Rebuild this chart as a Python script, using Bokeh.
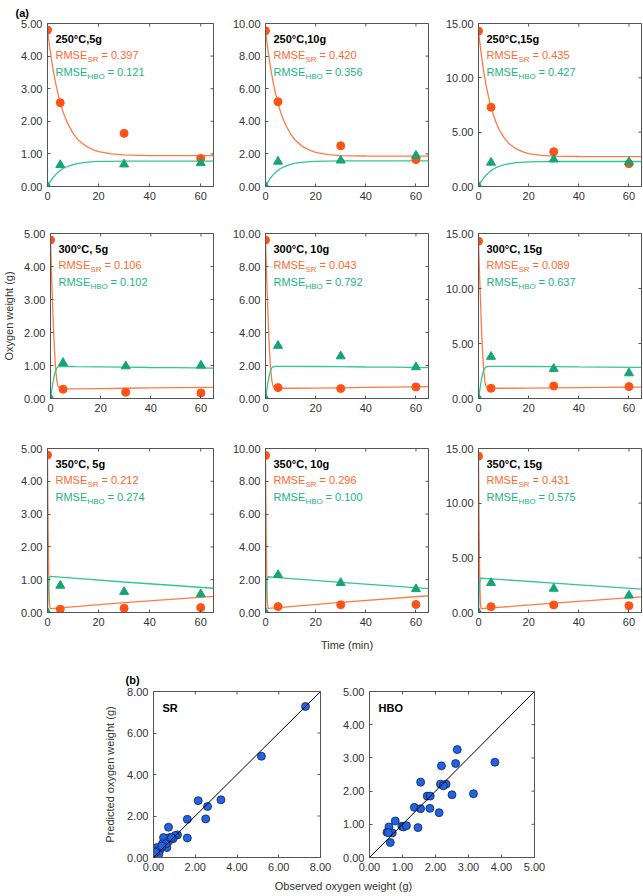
import math
from bokeh.plotting import figure
from bokeh.models import Range1d, Label, NumeralTickFormatter, FixedTicker, Slope, Title
from bokeh.layouts import column, row
from bokeh.embed import file_html
from bokeh.resources import INLINE

FONT = "Liberation Sans"
ORANGE_PT = "#FF5214"
ORANGE_LN = "#FF7A45"
ORANGE_TX = "#FF6A2E"
GREEN_PT = "#14A574"
GREEN_LN = "#33C690"
GREEN_TX = "#22B581"
AX = "#555555"
TX = "#333333"

# ---------------- data: panel (a) ----------------
time_obs = [0, 5, 30, 60]
panel_titles = ["250°C,5g", "250°C,10g", "250°C,15g",
                "300°C, 5g", "300°C, 10g", "300°C, 15g",
                "350°C, 5g", "350°C, 10g", "350°C, 15g"]
rmse_sr = ["0.397", "0.420", "0.435", "0.106", "0.043", "0.089", "0.212", "0.296", "0.431"]
rmse_hbo = ["0.121", "0.356", "0.427", "0.102", "0.792", "0.637", "0.274", "0.100", "0.575"]
y_max = [5, 10, 15]
y_ticks = [[0, 1, 2, 3, 4, 5], [0, 2, 4, 6, 8, 10], [0, 5, 10, 15]]
x_ticks = [0, 20, 40, 60]
x_max = 65

sr_obs_1 = [4.80, 2.57, 1.63, 0.86]
sr_obs_2 = [9.55, 5.20, 2.50, 1.65]
sr_obs_3 = [14.30, 7.30, 3.20, 2.10]
sr_obs_4 = [4.80, 0.28, 0.19, 0.17]
sr_obs_5 = [9.60, 0.66, 0.60, 0.70]
sr_obs_6 = [14.30, 0.93, 1.14, 1.08]
sr_obs_7 = [4.80, 0.10, 0.13, 0.15]
sr_obs_8 = [9.58, 0.36, 0.47, 0.49]
sr_obs_9 = [14.30, 0.53, 0.69, 0.62]

hbo_obs_1 = [0, 0.66, 0.68, 0.72]
hbo_obs_2 = [0, 1.53, 1.60, 1.90]
hbo_obs_3 = [0, 2.20, 2.50, 2.25]
hbo_obs_4 = [0, 1.08, 0.98, 1.00]
hbo_obs_5 = [0, 3.20, 2.56, 1.90]
hbo_obs_6 = [0, 3.80, 2.70, 2.30]
hbo_obs_7 = [0, 0.82, 0.63, 0.56]
hbo_obs_8 = [0, 2.29, 1.80, 1.43]
hbo_obs_9 = [0, 2.70, 2.18, 1.56]

# model curves (at these times)
t_slow = [0, 1, 2, 3, 4, 5, 6, 7, 8, 10, 12, 15, 18, 20, 25, 30, 40, 65]
t_mid = [0, 0.5, 1, 1.5, 2, 2.5, 3, 4, 5, 10, 20, 30, 40, 50, 65]
t_fast = [0, 0.25, 0.5, 0.75, 1, 5, 30, 65]

sr_fit_1 = [4.80, 4.19, 3.68, 3.24, 2.88, 2.57, 2.31, 2.10, 1.92, 1.63, 1.43, 1.24, 1.12, 1.07, 1.00, 0.97, 0.95, 0.95]
hbo_fit_1 = [0, 0.14, 0.26, 0.35, 0.43, 0.49, 0.55, 0.59, 0.62, 0.67, 0.71, 0.74, 0.76, 0.77, 0.77, 0.78, 0.78, 0.78]
sr_fit_2 = [9.55, 8.33, 7.30, 6.44, 5.71, 5.10, 4.58, 4.15, 3.79, 3.22, 2.82, 2.43, 2.20, 2.10, 1.96, 1.90, 1.87, 1.86]
hbo_fit_2 = [0, 0.28, 0.52, 0.71, 0.86, 0.99, 1.10, 1.18, 1.25, 1.36, 1.43, 1.49, 1.53, 1.54, 1.56, 1.57, 1.57, 1.57]
sr_fit_3 = [14.30, 12.34, 10.71, 9.36, 8.24, 7.30, 6.54, 5.89, 5.36, 4.55, 3.99, 3.46, 3.16, 3.03, 2.86, 2.79, 2.76, 2.75]
hbo_fit_3 = [0, 0.42, 0.76, 1.04, 1.27, 1.46, 1.61, 1.73, 1.84, 1.99, 2.09, 2.19, 2.24, 2.26, 2.28, 2.30, 2.30, 2.30]

sr_fit_4 = [4.80, 3.60, 2.50, 1.60, 0.95, 0.55, 0.37, 0.30, 0.29, 0.29, 0.30, 0.31, 0.32, 0.33, 0.34]
hbo_fit_4 = [0, 0.25, 0.50, 0.70, 0.84, 0.92, 0.96, 0.97, 0.97, 0.965, 0.96, 0.95, 0.94, 0.935, 0.92]
sr_fit_5 = [9.60, 7.20, 5.00, 3.20, 1.90, 1.10, 0.75, 0.63, 0.62, 0.62, 0.63, 0.65, 0.67, 0.69, 0.72]
hbo_fit_5 = [0, 0.50, 1.00, 1.40, 1.68, 1.85, 1.92, 1.95, 1.95, 1.95, 1.94, 1.93, 1.91, 1.90, 1.87]
sr_fit_6 = [14.30, 10.80, 7.50, 4.80, 2.80, 1.60, 1.10, 0.94, 0.93, 0.93, 0.95, 0.97, 0.99, 1.01, 1.04]
hbo_fit_6 = [0, 0.75, 1.50, 2.10, 2.50, 2.75, 2.87, 2.92, 2.92, 2.92, 2.91, 2.89, 2.87, 2.86, 2.83]

sr_fit_7 = [4.80, 2.50, 1.00, 0.30, 0.12, 0.14, 0.30, 0.49]
hbo_fit_7 = [0, 0.60, 0.98, 1.08, 1.10, 1.08, 0.93, 0.74]
sr_fit_8 = [9.58, 5.00, 2.00, 0.60, 0.25, 0.30, 0.62, 1.02]
hbo_fit_8 = [0, 1.20, 1.90, 2.14, 2.18, 2.13, 1.84, 1.45]
sr_fit_9 = [14.30, 7.50, 3.00, 0.90, 0.35, 0.42, 0.85, 1.42]
hbo_fit_9 = [0, 1.80, 2.80, 3.10, 3.14, 3.08, 2.69, 2.14]

sr_obs_all = [sr_obs_1, sr_obs_2, sr_obs_3, sr_obs_4, sr_obs_5, sr_obs_6, sr_obs_7, sr_obs_8, sr_obs_9]
hbo_obs_all = [hbo_obs_1, hbo_obs_2, hbo_obs_3, hbo_obs_4, hbo_obs_5, hbo_obs_6, hbo_obs_7, hbo_obs_8, hbo_obs_9]
sr_fit_all = [sr_fit_1, sr_fit_2, sr_fit_3, sr_fit_4, sr_fit_5, sr_fit_6, sr_fit_7, sr_fit_8, sr_fit_9]
hbo_fit_all = [hbo_fit_1, hbo_fit_2, hbo_fit_3, hbo_fit_4, hbo_fit_5, hbo_fit_6, hbo_fit_7, hbo_fit_8, hbo_fit_9]
t_fit_rows = [t_slow, t_mid, t_fast]

# ---------------- data: panel (b) ----------------
sr_observed = [7.28, 5.17, 3.23, 2.14, 2.59, 2.50, 1.62, 1.62, 0.72, 1.15, 1.04, 0.77, 0.48, 0.93,
               0.72, 0.43, 0.64, 0.29, 0.16, 0.08, 0.03, 0.16, 0.60, 0.86, 0.25, 0.10, 0.40]
sr_predicted = [7.28, 4.88, 2.78, 2.74, 2.46, 1.86, 1.84, 0.94, 1.46, 1.09, 1.06, 0.96, 0.96, 0.90,
                0.78, 0.66, 0.48, 0.32, 0.48, 0.19, 0.11, 0.32, 0.66, 0.95, 0.15, 0.25, 0.55]
hbo_observed = [2.66, 2.61, 2.18, 3.80, 1.55, 2.15, 2.32, 2.24, 2.50, 3.15, 1.75, 1.84, 1.36,
                1.55, 1.83, 2.11, 0.78, 0.59, 0.98, 1.03, 1.12, 1.47, 0.53, 0.69, 0.63, 0.57]
hbo_predicted = [3.25, 2.83, 2.76, 2.87, 2.27, 2.21, 2.21, 2.16, 1.89, 1.92, 1.85, 1.85, 1.51,
                 1.47, 1.48, 1.35, 1.10, 0.92, 0.94, 0.92, 0.96, 0.90, 0.76, 0.74, 0.45, 0.75]
sr_axis_max = 8
hbo_axis_max = 5
sr_ticks = [0, 2, 4, 6, 8]
hbo_ticks = [0, 1, 2, 3, 4, 5]


def style_axis(ax):
    ax.axis_line_color = AX
    ax.major_tick_line_color = AX
    ax.major_tick_in = 3
    ax.major_tick_out = 0
    ax.minor_tick_line_color = None
    ax.axis_label_text_font = FONT
    ax.axis_label_text_font_size = "11px"
    ax.axis_label_text_font_style = "normal"
    ax.axis_label_text_color = TX
    ax.major_label_text_font = FONT
    ax.major_label_text_font_size = "11px"
    ax.major_label_text_color = TX
    ax.major_label_standoff = 5


def base_fig(width, height, bl, br, bt, bb, xmax, ymax, xt, yt):
    p = figure(width=width, height=height, x_range=Range1d(0, xmax), y_range=Range1d(0, ymax),
               output_backend="svg", toolbar_location=None,
               min_border_left=bl, min_border_right=br, min_border_top=bt, min_border_bottom=bb,
               background_fill_color="white", border_fill_color="white",
               outline_line_color=AX, outline_line_width=1)
    p.grid.visible = False
    p.xaxis.ticker = FixedTicker(ticks=xt)
    p.yaxis.ticker = FixedTicker(ticks=yt)
    p.xaxis.formatter = NumeralTickFormatter(format="0")
    p.yaxis.formatter = NumeralTickFormatter(format="0.00")
    for ax in p.xaxis + p.yaxis:
        style_axis(ax)
    # mirrored inward tick marks on the top and right edges (half of each dash is clipped)
    p.scatter(xt, [ymax] * len(xt), marker="dash", size=6, angle=math.pi / 2,
              line_color=AX, line_width=1)
    p.scatter([xmax] * len(yt), yt, marker="dash", size=6, line_color=AX, line_width=1)
    return p


def label(p, x, y, text, dx, dy, color, size="11px", bold=False, align="left"):
    p.add_layout(Label(x=x, y=y, x_offset=dx, y_offset=dy, text=text, text_color=color,
                       text_font=FONT, text_font_size=size,
                       text_font_style="bold" if bold else "normal",
                       text_baseline="middle", text_align=align))


def corner_title(p, text, offset, standoff):
    p.title = Title(text=text, align="left", offset=offset, standoff=standoff,
                    text_font=FONT, text_font_size="11px", text_font_style="bold",
                    text_color="black")


col_w = [218, 215, 210]
col_bl = [47, 47, 45]
col_br = [5, 5, 2]
row_h = [210, 212, 233]
row_bt = [21, 23, 26]
row_bb = [24, 24, 43]

rows = []
for r in range(3):
    figs = []
    for c in range(3):
        i = r * 3 + c
        ym = y_max[c]
        p = base_fig(col_w[c], row_h[r], col_bl[c], col_br[c], row_bt[r], row_bb[r],
                     x_max, ym, x_ticks, y_ticks[c])
        tf = t_fit_rows[r]
        p.line(tf, sr_fit_all[i], line_color=ORANGE_LN, line_width=1.3)
        p.line(tf, hbo_fit_all[i], line_color=GREEN_LN, line_width=1.3)
        p.scatter(time_obs, sr_obs_all[i], marker="circle", size=8,
                  fill_color=ORANGE_PT, line_color=ORANGE_PT)
        p.scatter(time_obs, hbo_obs_all[i], marker="triangle", size=9,
                  fill_color=GREEN_PT, line_color=GREEN_PT)
        label(p, 0, ym, panel_titles[i], 8, -15, "black", bold=True)
        label(p, 0, ym, "RMSE", 8, -31, ORANGE_TX)
        label(p, 0, ym, "SR", 40, -36, ORANGE_TX, size="8px")
        label(p, 0, ym, "= " + rmse_sr[i], 54, -31, ORANGE_TX)
        label(p, 0, ym, "RMSE", 8, -48, GREEN_TX)
        label(p, 0, ym, "HBO", 40, -53, GREEN_TX, size="8px")
        label(p, 0, ym, "= " + rmse_hbo[i], 60, -48, GREEN_TX)
        if i == 0:
            corner_title(p, "(a)", -32, 9)
        if i == 3:
            p.left[0].axis_label = "Oxygen weight (g)"
            p.left[0].axis_label_standoff = 6
        if i == 7:
            p.below[0].axis_label = "Time (min)"
            p.below[0].axis_label_standoff = 10
        figs.append(p)
    rows.append(row(*figs, spacing=0))

# ---------------- (b) ----------------
p_sr = base_fig(340, 222, 153, 20, 36, 20, sr_axis_max, sr_axis_max, sr_ticks, sr_ticks)
p_sr.below[0].formatter = NumeralTickFormatter(format="0.00")
p_sr.add_layout(Slope(gradient=1, y_intercept=0, line_color="black", line_width=1))
p_sr.scatter(sr_observed, sr_predicted, marker="circle", size=8,
             fill_color="#1F63E6", line_color="#14234F", line_width=0.8)
label(p_sr, 0, sr_axis_max, "SR", 9, -16, "black", bold=True)
corner_title(p_sr, "(b)", -28, 12)
p_sr.left[0].axis_label = "Predicted oxygen weight (g)"
p_sr.left[0].axis_label_standoff = 8

p_hbo = base_fig(303, 222, 28, 109, 36, 20, hbo_axis_max, hbo_axis_max, hbo_ticks, hbo_ticks)
p_hbo.below[0].formatter = NumeralTickFormatter(format="0.00")
p_hbo.add_layout(Slope(gradient=1, y_intercept=0, line_color="black", line_width=1))
p_hbo.scatter(hbo_observed, hbo_predicted, marker="circle", size=8,
              fill_color="#1F63E6", line_color="#14234F", line_width=0.8)
label(p_hbo, 0, hbo_axis_max, "HBO", 9, -16, "black", bold=True)

strip = figure(width=643, height=19, x_range=Range1d(0, 643), y_range=Range1d(0, 19),
               output_backend="svg", toolbar_location=None, min_border=0,
               outline_line_color=None)
strip.axis.visible = False
strip.grid.visible = False
label(strip, 343, 11, "Observed oxygen weight (g)", 0, 0, TX, align="center")

layout = column(rows[0], rows[1], rows[2], row(p_sr, p_hbo, spacing=0), strip, spacing=0)

open("out.html", "w").write(file_html(layout, INLINE))
